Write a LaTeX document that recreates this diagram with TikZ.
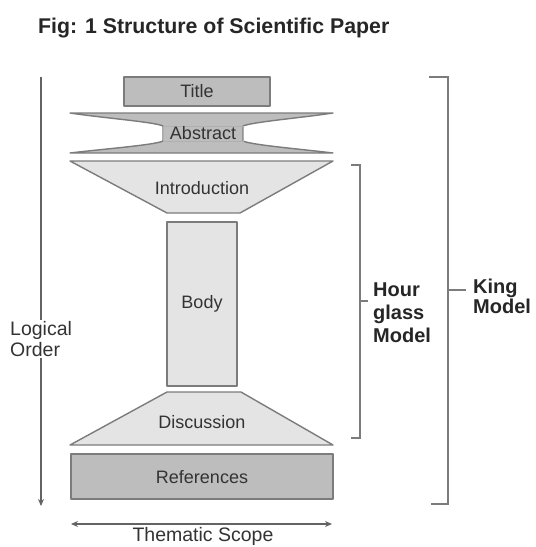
\documentclass[tikz,border=0pt]{standalone}
\usepackage{fontspec}
\setmainfont{Liberation Sans}
\usetikzlibrary{arrows.meta}
\definecolor{edge}{HTML}{7C7C7C}
\definecolor{darkfill}{HTML}{BDBDBD}
\definecolor{lightfill}{HTML}{E4E4E4}
\begin{document}
\begin{tikzpicture}[x=1pt,y=-1pt,
  part/.style={draw=edge,line width=1.4pt,line join=round},
  lbl/.style={font=\fontsize{18}{20}\selectfont,text=black!80,inner sep=0pt},
  side/.style={font=\fontsize{19.5}{23}\selectfont,text=black!80,align=left,inner sep=1pt},
  bold/.style={font=\fontsize{20}{23}\selectfont\bfseries,text=black!85,align=left,inner sep=0pt},
  brk/.style={draw=edge,line width=1.4pt},
  arr/.style={draw=edge!80!black,line width=1.3pt,-{Stealth[length=7pt,width=6pt]}}]
\useasboundingbox (0,0) rectangle (536,547);
\fill[white] (0,0) rectangle (536,547);

\node[font=\fontsize{21.3}{24}\selectfont\bfseries,text=black!85,anchor=base west,inner sep=0pt] (fig) at (38,33) {Fig: 1 Structure of Scientific Paper};

% Title box
\draw[part,fill=darkfill] (124,77) rectangle (270,106);
\node[lbl] (title) at (197,91.5) {Title};

% Abstract bow-tie
\draw[part,fill=darkfill] (70,113) -- (333,113)
  .. controls (300,118) and (252,122) .. (243,126) -- (243,141)
  .. controls (252,145) and (300,149) .. (333,153) -- (70,153)
  .. controls (103,149) and (155,145) .. (163,141) -- (163,126)
  .. controls (155,122) and (103,118) .. (70,113) -- cycle;
\draw[draw=edge!60,line width=0.8pt] (163,126) rectangle (243,141);
\node[lbl] (abstract) at (203,133.5) {Abstract};

% Introduction
\draw[part,fill=lightfill] (70,161) -- (333,161) -- (240,213) -- (167,213) -- cycle;
\node[lbl] (intro) at (202,188) {Introduction};

% Body
\draw[part,fill=lightfill] (167,222) rectangle (237,386);
\node[lbl] (body) at (202,304) {Body};

% Discussion
\draw[part,fill=lightfill] (167,392) -- (241,392) -- (333,445) -- (70,445) -- cycle;
\node[lbl] (disc) at (202,422) {Discussion};

% References
\draw[part,fill=darkfill] (71,454) rectangle (333,499);
\node[lbl] (refs) at (202,477) {References};

% Logical order
\coordinate (lotop) at (41,77);
\coordinate (lobot) at (41,506);
\draw[arr] (lotop) -- (lobot);
\node[side,fill=white,anchor=west] (logic) at (9,339) {Logical\\[-2pt]Order};

% Thematic scope
\coordinate (tsl) at (71,524);
\coordinate (tsr) at (332,524);
\draw[arr,{Stealth[length=7pt,width=6pt]}-{Stealth[length=7pt,width=6pt]}] (tsl) -- (tsr);
\node[font=\fontsize{19.5}{22}\selectfont,text=black!80,anchor=base,inner sep=0pt] (scope) at (203,541.5) {Thematic Scope};

% Hour glass bracket
\coordinate (h1) at (351,165);
\coordinate (h2) at (360,165);
\coordinate (h3) at (360,438);
\coordinate (h4) at (351,438);
\coordinate (hm) at (360,301);
\coordinate (hmt) at (368,301);
\draw[brk] (h1) -- (h2) -- (h3) -- (h4);
\draw[brk] (hm) -- (hmt);
\node[bold,anchor=west] (hour) at (373,313) {Hour\\[0pt]glass\\[0pt]Model};

% King bracket
\coordinate (k1) at (429,77);
\coordinate (k2) at (448,77);
\coordinate (k3) at (448,504);
\coordinate (k4) at (431,504);
\coordinate (km) at (448,290);
\coordinate (kmt) at (466,290);
\draw[brk] (k1) -- (k2) -- (k3) -- (k4);
\draw[brk] (km) -- (kmt);
\node[bold,anchor=west] (king) at (473,296) {King\\[-3pt]Model};
\end{tikzpicture}
\end{document}
